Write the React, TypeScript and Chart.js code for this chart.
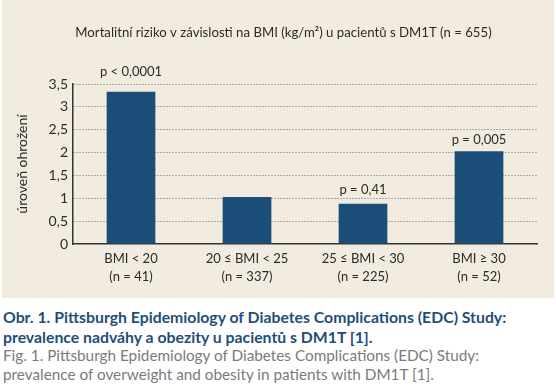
import React, { useEffect, useRef } from "react";
import { Chart, registerables } from "chart.js";

Chart.register(...registerables);

const categories: string[][] = [
  ["BMI < 20", "(n = 41)"],
  ["20 ≤ BMI < 25", "(n = 337)"],
  ["25 ≤ BMI < 30", "(n = 225)"],
  ["BMI ≥ 30", "(n = 52)"],
];
const riskValues: number[] = [3.33, 1.03, 0.88, 2.03];
const pLabels: string[] = ["p < 0,0001", "", "p = 0,41", "p = 0,005"];
const yTicks = { min: 0, max: 3.5, step: 0.5 };
const chartTitle = "Mortalitní riziko v závislosti na BMI (kg/m²) u pacientů s DM1T (n = 655)";
const yTitle = "úroveň ohrožení";
const captionCz = [
  "Obr. 1. Pittsburgh Epidemiology of Diabetes Complications (EDC) Study:",
  "prevalence nadváhy a obezity u pacientů s DM1T [1].",
];
const captionEn = [
  "Fig. 1. Pittsburgh Epidemiology of Diabetes Complications (EDC) Study:",
  "prevalence of overweight and obesity in patients with DM1T [1].",
];

const FONT = "Lato";
const TEXT = "#2b2b2b";

const pLabelPlugin = {
  id: "pLabels",
  afterDatasetsDraw(chart: any, _args: any, opts: any) {
    const { ctx } = chart;
    const meta = chart.getDatasetMeta(0);
    ctx.save();
    ctx.font = `${opts.size}px ${FONT}`;
    ctx.fillStyle = TEXT;
    ctx.textAlign = "center";
    ctx.textBaseline = "middle";
    meta.data.forEach((bar: any, i: number) => {
      const t = pLabels[i];
      if (!t) return;
      ctx.fillText(t, bar.x, bar.y - opts.offsets[i]);
    });
    ctx.restore();
  },
};

const titlePlugin = {
  id: "topTitle",
  afterDraw(chart: any, _args: any, opts: any) {
    const { ctx } = chart;
    ctx.save();
    ctx.font = `${opts.size}px ${FONT}`;
    ctx.fillStyle = TEXT;
    ctx.textAlign = "center";
    ctx.textBaseline = "middle";
    ctx.fillText(opts.text, chart.width / 2 + opts.dx, opts.y);
    ctx.restore();
  },
};

export default function App() {
  const ref = useRef<HTMLCanvasElement | null>(null);
  useEffect(() => {
    document.body.style.margin = "0";
    const chart = new Chart(ref.current as HTMLCanvasElement, {
      type: "bar",
      data: {
        labels: categories,
        datasets: [
          {
            data: riskValues,
            backgroundColor: "#1b4f7a",
            borderWidth: 0,
            categoryPercentage: 1,
            barPercentage: 0.42,
          },
        ],
      },
      plugins: [pLabelPlugin, titlePlugin],
      options: {
        animation: false,
        responsive: false,
        maintainAspectRatio: false,
        layout: { padding: { left: 0, right: 17, top: 84, bottom: 0 } },
        plugins: {
          legend: { display: false },
          tooltip: { enabled: false },
          title: { display: false },
          topTitle: { text: chartTitle, size: 13.2, dx: 5.5, y: 33 },
          pLabels: { size: 13, offsets: [20, 0, 14, 11] },
        } as any,
        scales: {
          x: {
            z: 1,
            grid: { display: false, drawTicks: false },
            border: { display: true, color: "#333", width: 1.5 },
            ticks: {
              color: TEXT,
              padding: 6,
              font: { family: FONT, size: 13, lineHeight: 1.4 },
              maxRotation: 0,
              autoSkip: false,
            },
            afterFit: (s: any) => {
              s.height = 54;
            },
          },
          y: {
            min: yTicks.min,
            max: yTicks.max,
            grid: {
              color: (c: any) => (c.tick && c.tick.value === 0 ? "rgba(0,0,0,0)" : "#666"),
              lineWidth: 1,
              drawTicks: false,
            },
            border: { display: true, color: "#333", width: 1.5, dash: [1, 2] },
            ticks: {
              stepSize: yTicks.step,
              color: TEXT,
              padding: 5,
              font: { family: FONT, size: 14 },
              callback: (v: any) => String(v).replace(".", ","),
            },
            title: {
              display: true,
              text: yTitle,
              color: TEXT,
              font: { family: FONT, size: 14, lineHeight: 1.2 },
              padding: { top: 11.6, bottom: 0 },
            },
            afterFit: (s: any) => {
              s.width = 71;
            },
          },
        },
      },
    } as any);
    return () => chart.destroy();
  }, []);

  return (
    <div style={{ position: "relative", width: 556, height: 389, background: "#fff", overflow: "hidden" }}>
      <div style={{ position: "absolute", left: 2, top: 0, width: 552, height: 298, background: "#f2ece0" }}>
        <canvas ref={ref} width={552} height={298} style={{ display: "block", width: 552, height: 298 }} />
      </div>
      <div
        style={{
          position: "absolute",
          left: 3,
          top: 307.4,
          fontFamily: FONT,
          fontWeight: 700,
          fontSize: 15.8,
          lineHeight: "19.5px",
          color: "#1f4e79",
          whiteSpace: "nowrap",
        }}
      >
        {captionCz.map((l, i) => (
          <div key={i}>{l}</div>
        ))}
      </div>
      <div
        style={{
          position: "absolute",
          left: 3,
          top: 346.3,
          fontFamily: FONT,
          fontWeight: 400,
          fontSize: 15.3,
          lineHeight: "19px",
          color: "#7b7b7b",
          whiteSpace: "nowrap",
        }}
      >
        {captionEn.map((l, i) => (
          <div key={i}>{l}</div>
        ))}
      </div>
    </div>
  );
}
